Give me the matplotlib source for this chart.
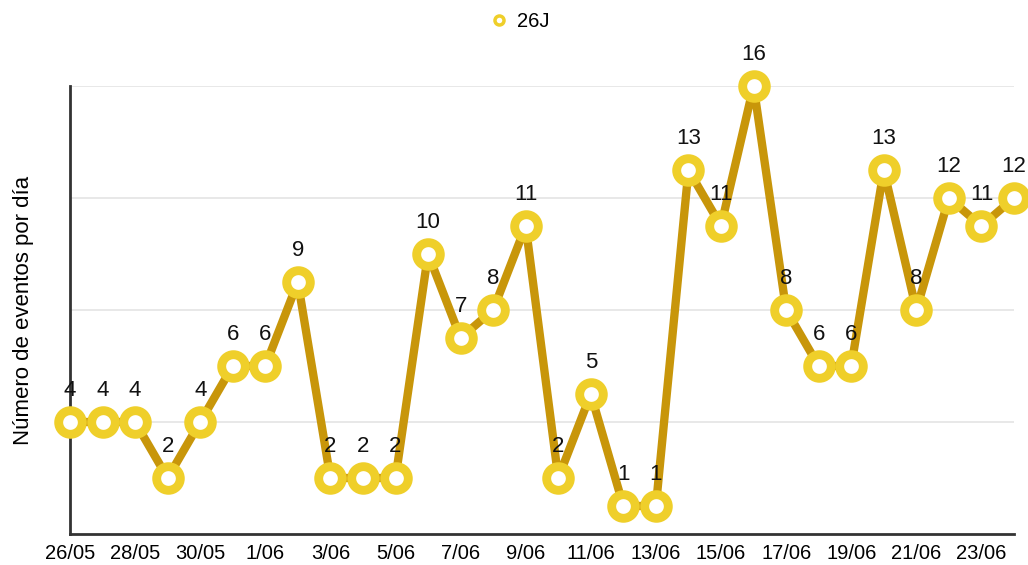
import matplotlib
matplotlib.use("Agg")
import matplotlib.pyplot as plt

plt.rcParams['font.family'] = ['Liberation Sans', 'DejaVu Sans']

dates = ["26/05", "27/05", "28/05", "29/05", "30/05", "31/05",
         "1/06", "2/06", "3/06", "4/06", "5/06", "6/06", "7/06", "8/06",
         "9/06", "10/06", "11/06", "12/06", "13/06", "14/06", "15/06",
         "16/06", "17/06", "18/06", "19/06", "20/06", "21/06", "22/06",
         "23/06", "24/06"]
values = [4, 4, 4, 2, 4, 6, 6, 9, 2, 2, 2, 10, 7, 8, 11, 2, 5, 1, 1, 13,
          11, 16, 8, 6, 6, 13, 8, 12, 11, 12]
series_name = "26J"
y_label = "Número de eventos por día"
y_grid = [4, 8, 12, 16]

line_color = "#C8960A"
marker_color = "#EFCF2A"

fig = plt.figure(figsize=(10.28, 5.65), dpi=100)
ax = fig.add_axes([70/1028, 31/565, (1014-70)/1028, (534-86)/565])

x = list(range(len(values)))
ax.plot(x, values, color=line_color, lw=6, zorder=2, clip_on=False)
ax.plot(x, values, linestyle='none', marker='o', ms=17, mew=6.4,
        mec=marker_color, mfc='white', zorder=3, clip_on=False)
# legend handle
ax.plot([], [], linestyle='none', marker='o', ms=6.5, mew=2.5,
        mec=marker_color, mfc='white', label=series_name)

for xi, v in zip(x, values):
    ax.annotate(str(v), (xi, v), xytext=(0, 19), textcoords='offset points',
                ha='center', va='baseline', fontsize=16, color='#111111',
                zorder=4, annotation_clip=False)

ax.set_xlim(0, len(values) - 1)
ax.set_ylim(0, 16)
ax.set_xticks(x[::2])
ax.set_xticklabels(dates[::2], fontsize=14.5)
ax.set_yticks(y_grid)
ax.set_yticklabels([])
ax.tick_params(axis='both', length=0)
ax.tick_params(axis='x', pad=7)
ax.tick_params(axis='y', pad=0)
ax.yaxis.grid(True, color='#e4e4e4', lw=1.2, zorder=0)
ax.set_axisbelow(True)
for s in ['top', 'right']:
    ax.spines[s].set_visible(False)
for s in ['left', 'bottom']:
    ax.spines[s].set_color('#333333')
    ax.spines[s].set_linewidth(2)
ax.set_ylabel(y_label, fontsize=16, labelpad=26)

fig.legend(loc='upper center', bbox_to_anchor=(0.505, 1.01), frameon=False,
           fontsize=14.5, handletextpad=0.4, handlelength=1.0)

fig.savefig("out.png", dpi=100)
